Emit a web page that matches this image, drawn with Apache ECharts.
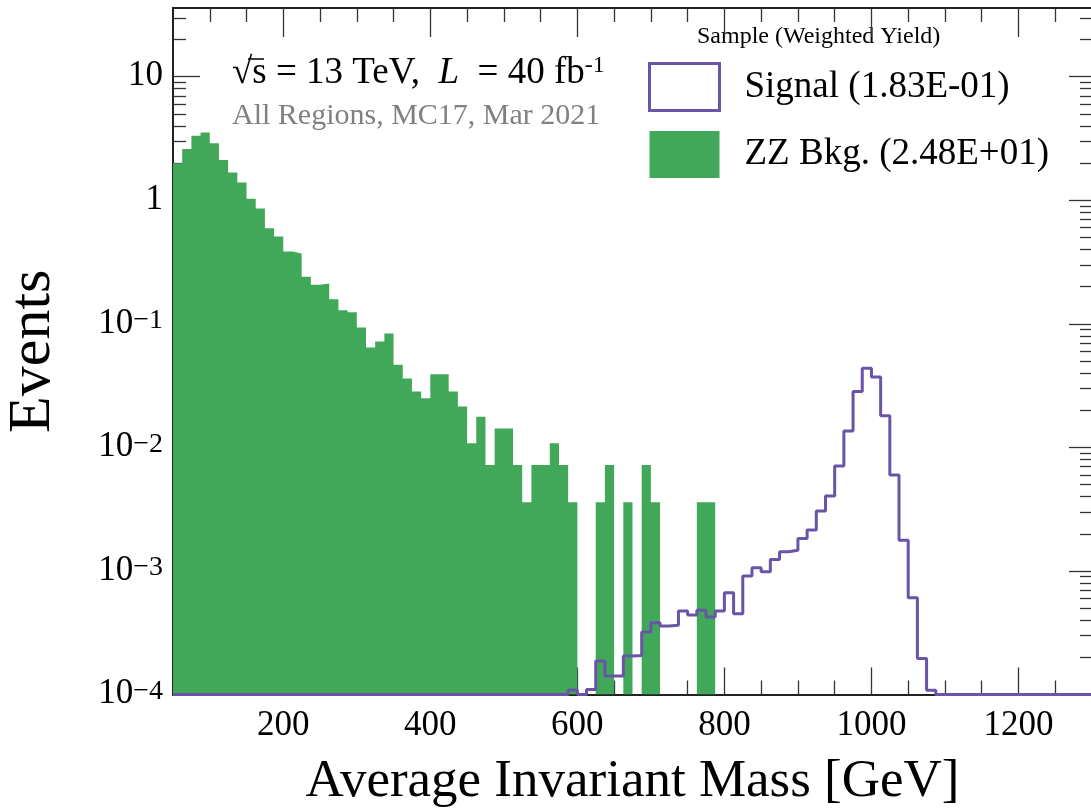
<!DOCTYPE html>
<html><head><meta charset="utf-8">
<script src="https://cdn.jsdelivr.net/npm/echarts@6/dist/echarts.min.js"></script>
<style>html,body{margin:0;padding:0;background:#fff}#c{width:1091px;height:809px}</style>
</head><body><div id="c"></div>
<script>
// ---- binning (histogram categories) ----
const xStart = 50;
const binWidth = 12.5;
const nBins = 100;

// ---- series values (Events per bin, 0 = empty bin) ----
const zzBkg = [
  1.99, 2.60, 3.33, 3.54, 2.90, 2.12, 1.68, 1.39, 1.03, 0.858,
  0.595, 0.509, 0.385, 0.371, 0.241, 0.207, 0.212, 0.158, 0.129, 0.124,
  0.0933, 0.0643, 0.0719, 0.0834, 0.0466, 0.0361, 0.0283, 0.0250, 0.0391, 0.0391,
  0.0283, 0.0214, 0.0108, 0.0177, 0.0072, 0.0142, 0.0142, 0.0072, 0.0036, 0.0072,
  0.0072, 0.0108, 0.0072, 0.0036, 0, 0, 0.0036, 0.0072, 0, 0.0036,
  0, 0.0072, 0.0036, 0, 0, 0, 0, 0.0036, 0.0036, 0,
  0, 0, 0, 0, 0, 0, 0, 0, 0, 0,
  0, 0, 0, 0, 0, 0, 0, 0, 0, 0,
  0, 0, 0, 0, 0, 0, 0, 0, 0, 0,
  0, 0, 0, 0, 0, 0, 0, 0, 0, 0
];
const signal = [
  0, 0, 0, 0, 0, 0, 0, 0, 0, 0,
  0, 0, 0, 0, 0, 0, 0, 0, 0, 0,
  0, 0, 0, 0, 0, 0, 0, 0, 0, 0,
  0, 0, 0, 0, 0, 0, 0, 0, 0, 0,
  0, 0, 0, 1.09e-4, 0, 1.10e-4, 1.87e-4, 1.41e-4, 1.41e-4, 2.05e-4,
  2.07e-4, 3.21e-4, 3.81e-4, 3.59e-4, 3.63e-4, 4.74e-4, 4.40e-4, 4.81e-4, 4.24e-4, 4.74e-4,
  6.67e-4, 4.51e-4, 9.11e-4, 1.06e-3, 9.87e-4, 1.24e-3, 1.43e-3, 1.47e-3, 1.83e-3, 2.14e-3,
  3.06e-3, 4.05e-3, 7.08e-3, 0.0136, 0.0283, 0.0438, 0.0372, 0.0180, 5.99e-3, 1.77e-3,
  6.08e-4, 1.96e-4, 1.08e-4, 0, 0, 0, 0, 0, 0, 0,
  0, 0, 0, 0, 0, 0, 0, 0, 0, 0
];

// ---- axis ticks / labels ----
const xMin = 50, xMax = 1300;
const xMajorTicks = [200, 400, 600, 800, 1000, 1200];
const xMinorTicks = [100, 150, 250, 300, 350, 450, 500, 550, 650, 700, 750, 850, 900, 950, 1050, 1100, 1150, 1250, 1300];
const yMin = 1e-4, yMax = 36;
const yMajorTicks = [1e-4, 1e-3, 1e-2, 1e-1, 1, 10];
const yMinorMult = [2, 3, 4, 5, 6, 7, 8, 9];

const seriesNames = ['Signal (1.83E-01)', 'ZZ Bkg. (2.48E+01)'];
const legendTitle = 'Sample (Weighted Yield)';

const GREEN = '#41a85a';
const PURPLE = '#6a54a7';
const FONT = 'Liberation Serif';

const yMinorTicks = [];
yMajorTicks.forEach(d => yMinorMult.forEach(m => { const v = +(m * d).toPrecision(6); if (v <= yMax) yMinorTicks.push(v); }));

const binLow = Array.from({length: nBins}, (_, i) => xStart + binWidth * i);
const xEnd = xStart + binWidth * nBins;

function stepData(vals) {
  const d = binLow.map((x, i) => [x, vals[i] > 0 ? vals[i] : yMin]);
  d.push([xEnd, vals[nBins - 1] > 0 ? vals[nBins - 1] : yMin]);
  return d;
}

const axisLineStyle = {color: '#222', width: 2};
const tickStyle = {color: '#333', width: 1.3};

function xAxisDef(pos, ticks, len, withLabel, withLine) {
  return {
    type: 'value', min: xMin, max: xMax, position: pos,
    axisLine: {show: withLine, onZero: false, lineStyle: axisLineStyle},
    axisTick: {show: true, inside: true, length: len, customValues: ticks, lineStyle: tickStyle},
    axisLabel: withLabel ? {show: true, customValues: xMajorTicks, margin: 14,
      formatter: v => String(v),
      fontFamily: FONT, fontSize: 35, color: '#000'} : {show: false},
    splitLine: {show: false}, minorTick: {show: false},
    name: withLabel ? 'Average Invariant Mass [GeV]' : '',
    nameLocation: 'middle', nameGap: 61,
    nameTextStyle: {fontFamily: FONT, fontSize: 53, color: '#000'}
  };
}
function yLabelFmt(v) {
  const e = Math.round(Math.log10(v));
  if (e === 1) return '{b|10}';
  if (e === 0) return '{b|1}';
  return '{b|10}{s|\u2212' + (-e) + '}';
}
function yAxisDef(pos, ticks, len, withLabel, withLine) {
  return {
    type: 'log', logBase: 10, min: yMin, max: yMax, position: pos,
    axisLine: {show: withLine, onZero: false, lineStyle: axisLineStyle},
    axisTick: {show: true, inside: true, length: len, customValues: ticks, lineStyle: tickStyle},
    axisLabel: withLabel ? {show: true, customValues: yMajorTicks, margin: 10,
      formatter: yLabelFmt, color: '#000',
      rich: {
        b: {fontFamily: FONT, fontSize: 35, color: '#000', verticalAlign: 'bottom', lineHeight: 34},
        s: {fontFamily: FONT, fontSize: 28, color: '#000', verticalAlign: 'top', lineHeight: 22}
      }} : {show: false},
    splitLine: {show: false}, minorTick: {show: false},
    name: withLabel ? 'Events' : '',
    nameLocation: 'middle', nameGap: 110,
    nameTextStyle: {fontFamily: FONT, fontSize: 60, color: '#000'}
  };
}

const chart = echarts.init(document.getElementById('c'), null, {renderer: 'canvas'});
chart.setOption({
  animation: false,
  backgroundColor: '#fff',
  grid: {left: 173, top: 8, width: 919, height: 686.5, containLabel: false, outerBoundsMode: 'none'},
  xAxis: [
    xAxisDef('bottom', xMajorTicks, 27, true, true),
    xAxisDef('bottom', xMinorTicks, 14, false, false),
    xAxisDef('top', xMajorTicks, 29, false, true),
    xAxisDef('top', xMinorTicks, 14, false, false)
  ],
  yAxis: [
    yAxisDef('left', yMajorTicks, 27, true, true),
    yAxisDef('left', yMinorTicks, 13, false, false),
    yAxisDef('right', yMajorTicks, 23, false, true),
    yAxisDef('right', yMinorTicks, 12, false, false)
  ],
  legend: {
    orient: 'vertical', left: 648, top: 62, padding: 0,
    itemWidth: 70, itemHeight: 47, itemGap: 19,
    selectedMode: false,
    textStyle: {fontFamily: FONT, fontSize: 37, color: '#000', padding: [8, 0, 0, 20]},
    data: [
      {name: seriesNames[0], icon: 'rect', itemStyle: {color: '#fff', borderColor: PURPLE, borderWidth: 3}},
      {name: seriesNames[1], icon: 'rect', itemStyle: {color: GREEN, borderWidth: 0}}
    ]
  },
  graphic: [
    {type: 'text', left: 697, top: 25, style: {text: legendTitle, fontFamily: FONT, fontSize: 24, fill: '#000'}},
    {type: 'text', left: 232, top: 54, style: {
      text: '{n|\u221As = 13 TeV,  }{i|L}{n|  = 40 fb}{s|-1}',
      rich: {
        n: {fontFamily: FONT, fontSize: 37, color: '#000', verticalAlign: 'bottom', lineHeight: 38},
        i: {fontFamily: FONT, fontSize: 37, fontStyle: 'italic', color: '#000', verticalAlign: 'bottom', lineHeight: 38},
        s: {fontFamily: FONT, fontSize: 24, color: '#000', verticalAlign: 'top', lineHeight: 22}
      }
    }},
    {type: 'line', shape: {x1: 248, y1: 59, x2: 264, y2: 59}, style: {stroke: '#000', lineWidth: 1.5}},
    {type: 'text', left: 232, top: 101, style: {text: 'All Regions, MC17, Mar 2021', fontFamily: FONT, fontSize: 30, fill: '#808080'}}
  ],
  series: [
    {
      type: 'line', name: seriesNames[1], xAxisIndex: 0, yAxisIndex: 0,
      step: 'end', data: stepData(zzBkg), symbol: 'none', showSymbol: false,
      lineStyle: {width: 0, color: GREEN}, itemStyle: {color: GREEN},
      areaStyle: {color: GREEN, opacity: 1, origin: 'start'}, z: 2
    },
    {
      type: 'line', name: seriesNames[0], xAxisIndex: 0, yAxisIndex: 0,
      step: 'end', data: stepData(signal), symbol: 'none', showSymbol: false,
      lineStyle: {color: PURPLE, width: 3}, itemStyle: {color: PURPLE}, z: 3
    }
  ]
});
</script></body></html>
